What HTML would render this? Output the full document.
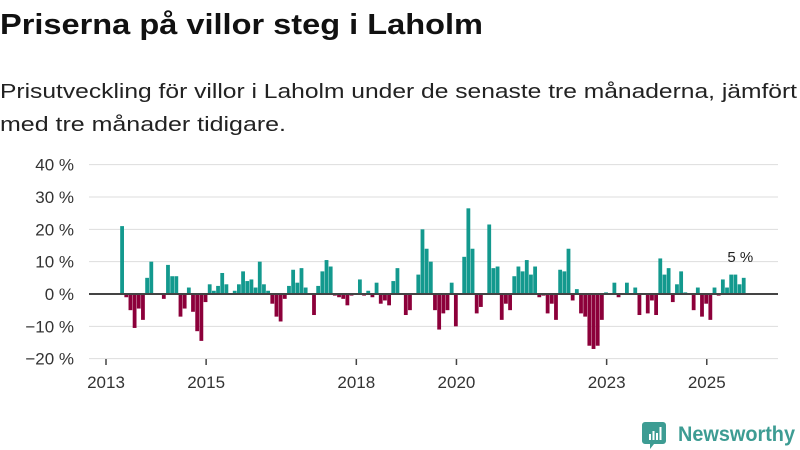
<!DOCTYPE html>
<html><head><meta charset="utf-8"><style>
html,body{margin:0;padding:0;background:#fff;}
svg{display:block;font-family:"Liberation Sans",sans-serif;}
</style></head><body>
<svg id="chart" width="800" height="450" viewBox="0 0 800 450">
<text x="0" y="34" font-size="29" font-weight="bold" fill="#111" textLength="483" lengthAdjust="spacingAndGlyphs">Priserna på villor steg i Laholm</text>
<text x="0" y="98" font-size="20" fill="#222" textLength="797" lengthAdjust="spacingAndGlyphs">Prisutveckling för villor i Laholm under de senaste tre månaderna, jämfört</text>
<text x="0" y="131" font-size="20" fill="#222" textLength="286" lengthAdjust="spacingAndGlyphs">med tre månader tidigare.</text>
<g id="grid"></g>
<g id="bars"></g>
<g id="xaxis"></g>
<g>
<path d="M645 422 h18 a3 3 0 0 1 3 3 v16 a3 3 0 0 1 -3 3 h-9 l-4 5 v-5 h-5 a3 3 0 0 1 -3 -3 v-16 a3 3 0 0 1 3 -3z" fill="#3d9c93"/>
<rect x="649" y="434" width="2" height="6" fill="#fff"/><rect x="652.5" y="431" width="2" height="9" fill="#fff"/><rect x="656" y="433" width="2" height="7" fill="#fff"/><rect x="659.5" y="427" width="2" height="13" fill="#fff"/>
<text x="678" y="441" font-size="21" font-weight="bold" fill="#3d9c93" textLength="117" lengthAdjust="spacingAndGlyphs">Newsworthy</text>
</g>
</svg>
<script>
const values = [21,-1,-5,-10.5,-4.5,-8,5,10,0.2,0.2,-1.5,9,5.5,5.5,-7,-4.5,2,-5.5,-11.5,-14.5,-2.5,3,1,2.5,6.5,3,0.3,1,3,7,4,4.5,2,10,3,1,-3,-7,-8.5,-1.5,2.5,7.5,3.5,8,2,0.2,-6.5,2.5,7,10.5,8.5,-0.5,-1,-1.5,-3.5,-0.5,0.2,4.5,-0.5,1,-1,3.5,-3,-2,-3.5,4,8,0.2,-6.5,-5,0.2,6,20,14,10,-5,-11,-6,-5,3.5,-10,0.2,11.5,26.5,14,-6,-4,0.2,21.5,8,8.5,-8,-3,-5,5.5,8.5,7,10.5,6,8.5,-1,-0.5,-6,-3,-8,7.5,7,14,-2,1.5,-6,-7,-16,-17,-16,-8,0.5,0.2,3.5,-1,0.2,3.5,0.2,2,-6.5,0.2,-6,-2,-6.5,11,6,8,-2.5,3,7,0.5,0.2,-5,2,-7,-3,-8,2,-0.5,4.5,2,6,6,3,5];
const startYear = 2013, startMonth = 4; // May 2013 (0-based month)
const yTicks = [40,30,20,10,0,-10,-20];
const xTickYears = [2013,2015,2018,2020,2023,2025];
const lastLabel = "5 %";
const NS="http://www.w3.org/2000/svg";
const xs = t => 106 + t*4.172;
const ys = v => 294 - v*3.233;
function mk(tag, attrs, parent){const e=document.createElementNS(NS,tag);for(const k in attrs)e.setAttribute(k,attrs[k]);parent.appendChild(e);return e;}
const grid=document.getElementById('grid'), bars=document.getElementById('bars'), xa=document.getElementById('xaxis');
yTicks.forEach(v=>{
  const y=ys(v);
  const l=mk('line',{x1:89,x2:778,y1:y,y2:y,stroke:'#dddddd','stroke-width':1},grid);
  
  
  const t=mk('text',{x:74,y:y+6,'text-anchor':'end','font-size':17,fill:'#333'},grid);
  t.textContent=(v<0?'\u2212'+(-v):v)+' %';
  
  
});
values.forEach((v,i)=>{
  const t=startMonth+i;
  const x=xs(t)-2.5;
  const y0=ys(0), y1=ys(v);
  const r=mk('rect',{x:x,y:Math.min(y0,y1),width:3.8,height:Math.max(0.5,Math.abs(y1-y0)),fill:v>=0?'#13998e':'#8c003a'},bars);
  
  
});
const zl=mk('line',{x1:89,x2:778,y1:ys(0),y2:ys(0),stroke:'#444','stroke-width':2},bars);


const li=values.length-1, lv=values[li];
const lab=mk('text',{x:xs(startMonth+li)-4,y:ys(Math.max(lv,0))-16,'text-anchor':'middle','font-size':15,fill:'#222'},bars);
lab.textContent=lastLabel;


xTickYears.forEach(yr=>{
  const x=xs((yr-startYear)*12);
  const tk=mk('line',{x1:x,x2:x,y1:359,y2:365,stroke:'#444','stroke-width':1.5},xa);
  
  
  const t=mk('text',{x:x,y:388,'text-anchor':'middle','font-size':17,fill:'#333'},xa);
  t.textContent=yr;
  
  
});
</script>
</body></html>
